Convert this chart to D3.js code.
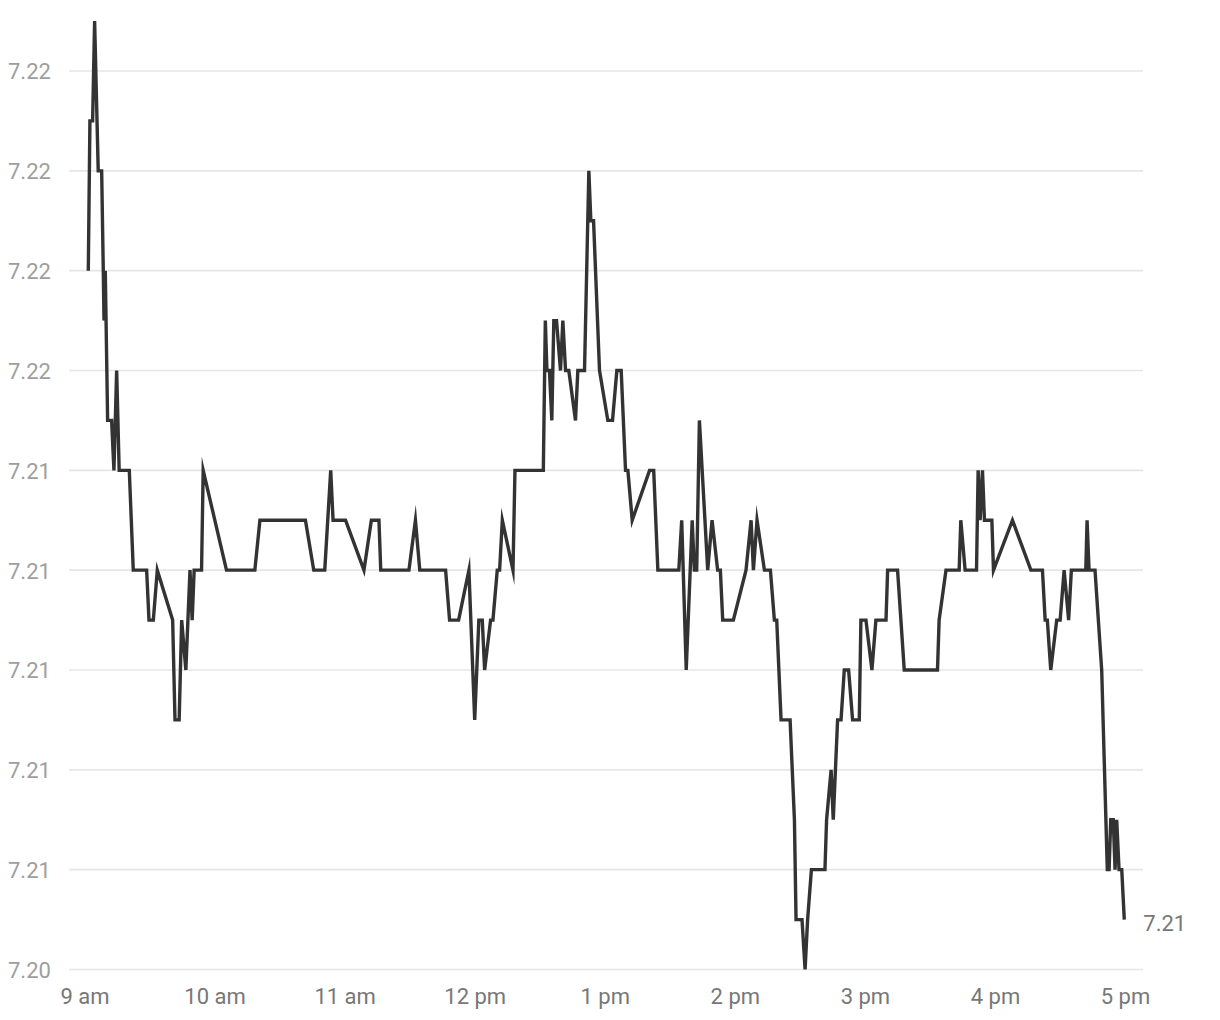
<!DOCTYPE html>
<html>
<head>
<meta charset="utf-8">
<script src="https://cdn.jsdelivr.net/npm/d3@7"></script>
<style>
  html, body { margin: 0; padding: 0; background: #ffffff; }
  svg { display: block; font-family: Roboto, "Noto Sans", sans-serif; }
</style>
</head>
<body>
<svg id="chart" width="1220" height="1020"></svg>
<script>
// ---- data ----
const times = [
  "09:01:45","09:02:30","09:03:45","09:04:40","09:06:20","09:07:55","09:08:40","09:09:00","09:09:35","09:10:40",
  "09:12:30","09:13:35","09:14:50","09:16:00","09:20:40","09:22:30","09:28:40","09:29:45","09:31:45","09:33:35",
  "09:40:40","09:41:45","09:43:40","09:44:50","09:46:45","09:48:40","09:49:40","09:50:35","09:54:00","09:54:45",
  "10:05:30","10:18:35","10:20:55","10:41:55","10:45:45","10:50:50","10:53:35","10:54:40","11:00:25","11:08:55",
  "11:12:20","11:15:50","11:16:40","11:29:40","11:32:40","11:34:40","11:46:35","11:48:25","11:52:35","11:57:20",
  "12:00:00","12:01:55","12:03:30","12:04:35","12:07:20","12:08:25","12:10:25","12:11:30","12:12:45","12:17:40",
  "12:18:35","12:31:40","12:32:35","12:33:20","12:34:30","12:35:35","12:36:30","12:37:45","12:39:35","12:40:40",
  "12:41:55","12:43:25","12:46:30","12:47:35","12:50:40","12:52:40","12:53:35","12:54:50","12:57:35","13:01:25",
  "13:03:35","13:05:35","13:07:35","13:09:35","13:10:40","13:12:40","13:20:40","13:22:35","13:24:30","13:34:10",
  "13:35:30","13:37:35","13:40:20","13:41:20","13:42:25","13:43:40","13:47:30","13:49:30","13:52:05","13:53:20",
  "13:54:25","13:59:20","14:05:10","14:07:30","14:08:35","14:10:15","14:13:40","14:16:25","14:18:15","14:19:20",
  "14:21:20","14:25:30","14:27:30","14:28:15","14:31:00","14:32:25","14:33:35","14:35:20","14:41:35","14:42:20",
  "14:44:25","14:45:25","14:47:25","14:49:00","14:50:30","14:52:30","14:54:20","14:57:25","14:58:10","15:00:30",
  "15:03:15","15:05:05","15:09:45","15:10:30","15:15:05","15:18:10","15:33:30","15:34:15","15:37:25","15:43:30",
  "15:44:15","15:46:15","15:51:30","15:52:15","15:53:10","15:54:15","15:55:10","15:58:35","15:59:20","16:08:05",
  "16:16:35","16:21:55","16:23:10","16:24:10","16:25:45","16:28:30","16:30:05","16:31:55","16:34:00","16:35:15",
  "16:41:55","16:42:30","16:43:25","16:46:10","16:49:15","16:51:50","16:52:40","16:53:25","16:54:35","16:55:25",
  "16:56:10","16:57:15","16:58:30","16:59:40"
];
const values = [
  7.218,7.221,7.221,7.223,7.220,7.220,7.218,7.217,7.218,7.215,
  7.215,7.214,7.216,7.214,7.214,7.212,7.212,7.211,7.211,7.212,
  7.211,7.209,7.209,7.211,7.210,7.212,7.211,7.212,7.212,7.214,
  7.212,7.212,7.213,7.213,7.212,7.212,7.214,7.213,7.213,7.212,
  7.213,7.213,7.212,7.212,7.213,7.212,7.212,7.211,7.211,7.212,
  7.209,7.211,7.211,7.210,7.211,7.211,7.212,7.212,7.213,7.212,
  7.214,7.214,7.217,7.216,7.216,7.215,7.217,7.217,7.216,7.217,
  7.216,7.216,7.215,7.216,7.216,7.220,7.219,7.219,7.216,7.215,
  7.215,7.216,7.216,7.214,7.214,7.213,7.214,7.214,7.212,7.212,
  7.213,7.210,7.213,7.212,7.212,7.215,7.212,7.213,7.212,7.212,
  7.211,7.211,7.212,7.213,7.212,7.213,7.212,7.212,7.211,7.211,
  7.209,7.209,7.207,7.205,7.205,7.204,7.205,7.206,7.206,7.207,
  7.208,7.207,7.209,7.209,7.210,7.210,7.209,7.209,7.211,7.211,
  7.210,7.211,7.211,7.212,7.212,7.210,7.210,7.211,7.212,7.212,
  7.213,7.212,7.212,7.214,7.213,7.214,7.213,7.213,7.212,7.213,
  7.212,7.212,7.211,7.211,7.210,7.211,7.211,7.212,7.211,7.212,
  7.212,7.213,7.212,7.212,7.210,7.206,7.206,7.207,7.207,7.206,
  7.207,7.206,7.206,7.205
];
const yTickValues = [7.204, 7.206, 7.208, 7.210, 7.212, 7.214, 7.216, 7.218, 7.220, 7.222];
const xTickTimes = ["09:00","10:00","11:00","12:00","13:00","14:00","15:00","16:00","17:00"];
const xDomain = ["09:00", "17:00"];
const lastLabel = "7.21";

// ---- chart ----
const parseT = d3.timeParse("%H:%M:%S");
const parseH = d3.timeParse("%H:%M");
const data = times.map((t, i) => ({ t: parseT(t), v: values[i] }));

const svg = d3.select("#chart");
const x = d3.scaleTime().domain(xDomain.map(parseH)).range([84.5, 1125]);
const y = d3.scaleLinear().domain([7.204, 7.222]).range([969.5, 71]);

const fmtY = d3.format(".2f");
const fmtX = d => { const h = d.getHours(); return (h % 12 || 12) + (h < 12 ? " am" : " pm"); };

// grid + y labels
const yAxis = d3.axisLeft(y).tickValues(yTickValues).tickFormat(fmtY).tickSize(0);
const gy = svg.append("g");
gy.selectAll("line.grid").data(yTickValues).enter().append("line")
  .attr("class", "grid")
  .attr("x1", 69).attr("x2", 1143)
  .attr("y1", d => y(d)).attr("y2", d => y(d))
  .attr("stroke", "#e6e6e6").attr("stroke-width", 1.6);
const yLab = svg.append("g").attr("transform", "translate(8,0)").call(yAxis);
yLab.select(".domain").remove();
yLab.selectAll("text")
  .attr("text-anchor", "start").attr("x", 0).attr("dy", "0.36em")
  .attr("fill", "#9e9e9e").style("font-size", "22px")
  .style("font-family", "Roboto, 'Noto Sans', sans-serif");

// x axis labels
const xAxis = d3.axisBottom(x).tickValues(xTickTimes.map(parseH)).tickFormat(fmtX).tickSize(0).tickPadding(0);
const gx = svg.append("g").attr("transform", "translate(0,1004)").call(xAxis);
gx.select(".domain").remove();
gx.selectAll("text")
  .attr("y", 0).attr("dy", 0)
  .attr("fill", "#777777").style("font-size", "22px")
  .style("font-family", "Roboto, 'Noto Sans', sans-serif");

// line
const line = d3.line().x(d => x(d.t)).y(d => y(d.v));
svg.append("path").datum(data)
  .attr("fill", "none").attr("stroke", "#333333")
  .attr("stroke-width", 3.4).attr("stroke-linejoin", "miter").attr("stroke-miterlimit", 10)
  .attr("d", line);

// last value label
const last = data[data.length - 1];
svg.append("text")
  .attr("x", x(last.t) + 19).attr("y", y(last.v) + 3).attr("dy", "0.36em")
  .attr("fill", "#777777").style("font-size", "22px")
  .text(lastLabel);
</script>
</body>
</html>
